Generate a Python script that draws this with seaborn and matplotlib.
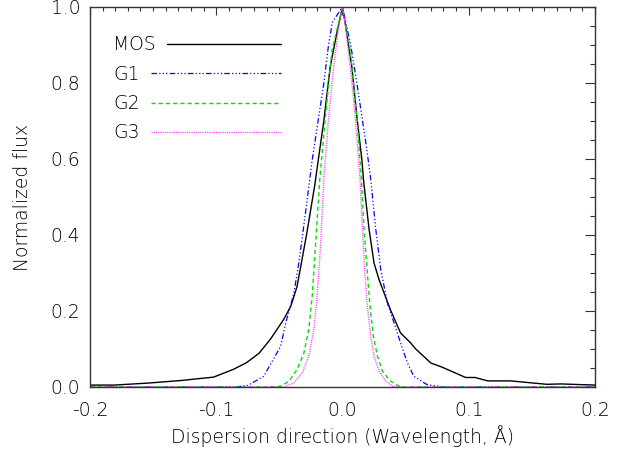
import numpy as np
import pandas as pd
import matplotlib
matplotlib.use("Agg")
import matplotlib.pyplot as plt
from matplotlib.ticker import MultipleLocator, FormatStrFormatter
import seaborn as sns

# Normalized line profiles along the dispersion direction (wavelength offset in Angstrom)
mos_x = [-0.200, -0.181, -0.155, -0.128, -0.102, -0.086, -0.076, -0.066, -0.057,
         -0.0465, -0.041, -0.036, -0.0285, -0.022, -0.0188, -0.0148, -0.0097, -0.0045,
         0.0, 0.0034, 0.0074, 0.0114, 0.0154, 0.0166, 0.0211, 0.025, 0.029, 0.033,
         0.038, 0.046, 0.054, 0.058, 0.0645, 0.070, 0.079, 0.0975, 0.105, 0.115,
         0.133, 0.162, 0.173, 0.200]
mos_y = [0.005, 0.005, 0.010, 0.017, 0.026, 0.047, 0.064, 0.089, 0.126,
         0.178, 0.212, 0.264, 0.400, 0.530, 0.606, 0.700, 0.843, 0.931,
         1.000, 0.931, 0.843, 0.711, 0.597, 0.546, 0.414, 0.326, 0.282, 0.247,
         0.203, 0.142, 0.116, 0.100, 0.080, 0.063, 0.052, 0.025, 0.025, 0.016,
         0.016, 0.007, 0.008, 0.005]

g1_x = [-0.200, -0.085, -0.075, -0.0624, -0.0544, -0.049, -0.045, -0.0386, -0.0346,
        -0.0293, -0.024, -0.0188, -0.0148, -0.0109, -0.008, 0.0,
        0.0065, 0.0114, 0.0154, 0.0193, 0.0224, 0.0264, 0.0303, 0.0356, 0.0409,
        0.046, 0.0515, 0.0565, 0.0671, 0.080, 0.200]
g1_y = [0.0, 0.0, 0.004, 0.028, 0.075, 0.107, 0.168, 0.245, 0.326,
        0.458, 0.597, 0.711, 0.799, 0.904, 0.960, 1.000,
        0.900, 0.799, 0.711, 0.624, 0.546, 0.414, 0.309, 0.221, 0.168,
        0.116, 0.063, 0.028, 0.006, 0.0, 0.0]

g2_x = [-0.200, -0.060, -0.049, -0.0425, -0.0359, -0.0306, -0.0267, -0.024, -0.0214,
        -0.018, -0.0135, -0.0083, 0.0,
        0.0061, 0.0114, 0.015, 0.0171, 0.0197, 0.0218, 0.0245, 0.0277, 0.0317,
        0.038, 0.046, 0.200]
g2_y = [0.0, 0.0, 0.002, 0.015, 0.046, 0.089, 0.151, 0.238, 0.370,
        0.546, 0.711, 0.887, 1.000,
        0.887, 0.711, 0.546, 0.414, 0.300, 0.212, 0.133, 0.081, 0.041,
        0.015, 0.0, 0.0]

g3_x = [-0.200, -0.055, -0.0465, -0.0386, -0.0319, -0.0267, -0.0227, -0.0201, -0.0174,
        -0.0148, -0.0109, -0.0069, -0.003, 0.0,
        0.0024, 0.0061, 0.0101, 0.0139, 0.0158, 0.0176, 0.0197, 0.0224, 0.025,
        0.029, 0.0344, 0.0397, 0.048, 0.200]
g3_y = [0.0, 0.0, 0.0, 0.011, 0.037, 0.081, 0.151, 0.238, 0.370,
        0.546, 0.711, 0.843, 0.948, 1.000,
        0.948, 0.843, 0.711, 0.546, 0.414, 0.309, 0.212, 0.133, 0.081,
        0.041, 0.015, 0.002, 0.0, 0.0]

series_names = ["MOS", "G1", "G2", "G3"]
series_colors = ["#000000", "#0000ff", "#00e000", "#ff40ff"]

sns.set_theme(style="white")
plt.rcParams["font.family"] = ["DejaVu Sans"]
plt.rcParams["font.weight"] = 200
plt.rcParams["axes.labelweight"] = 200
plt.rcParams["lines.scale_dashes"] = False
text_color = "#000000"
axis_color = "#333333"
fs = 13.5

fig = plt.figure(figsize=(6.24, 4.55), dpi=100)
ax = fig.add_axes([0.1442, 0.1495, 0.8093, 0.8352])

series = [(mos_x, mos_y), (g1_x, g1_y), (g2_x, g2_y), (g3_x, g3_y)]
styles = ["-", (0, (4.0, 1.6, 0.9, 1.6, 0.9, 1.6, 0.9, 1.6)), (0, (3.0, 2.2)), (0, (0.8, 0.8))]
widths = [1.0, 0.9, 1.0, 1.0]

for name, (xs, ys), col, ls, lw in zip(series_names, series, series_colors, styles, widths):
    df = pd.DataFrame({"x": xs, "y": ys})
    sns.lineplot(data=df, x="x", y="y", ax=ax, color=col, linestyle=ls, lw=lw,
                 sort=False, estimator=None, label=name)

ax.set_xlim(-0.2, 0.2)
ax.set_ylim(0.0, 1.0)
ax.xaxis.set_major_locator(MultipleLocator(0.1))
ax.xaxis.set_minor_locator(MultipleLocator(0.01))
ax.yaxis.set_major_locator(MultipleLocator(0.2))
ax.yaxis.set_minor_locator(MultipleLocator(0.05))
ax.xaxis.set_major_formatter(FormatStrFormatter("%.1f"))
ax.yaxis.set_major_formatter(FormatStrFormatter("%.1f"))

for sp in ax.spines.values():
    sp.set_color(axis_color)
    sp.set_linewidth(1.0)

ax.tick_params(axis="both", which="both", direction="in", top=True, right=True,
               color=axis_color, width=0.8, labelcolor=text_color, labelsize=fs)
ax.tick_params(axis="x", which="major", length=5.8, pad=10)
ax.tick_params(axis="x", which="minor", length=2.9)
ax.tick_params(axis="y", which="major", length=7.0, pad=7)
ax.tick_params(axis="y", which="minor", length=3.6)

ax.set_xlabel("Dispersion direction (Wavelength, Å)", fontsize=fs, color=text_color, labelpad=4)
ax.set_ylabel("Normalized flux", fontsize=fs, color=text_color, labelpad=13)

# keep the end labels of the y axis inside the frame
ylabels = ax.get_yticklabels()
ylabels[0].set_verticalalignment("bottom")
ylabels[-1].set_verticalalignment("top")

leg = ax.legend(loc="upper left", bbox_to_anchor=(0.0455, 0.925), frameon=False,
                markerfirst=False, handlelength=6.1, handletextpad=0.6,
                labelspacing=0.55, borderpad=0.0, borderaxespad=0.0, fontsize=fs)
for t in leg.get_texts():
    t.set_color(text_color)
# label column left-aligned, sample lines all ending at the same x
for col in leg._legend_handle_box.get_children():
    col.align = "left"

fig.canvas.draw()
renderer = fig.canvas.get_renderer()
text_w = [t.get_window_extent(renderer).width for t in leg.get_texts()]
max_w = max(text_w)
for line, w in zip(leg.get_lines(), text_w):
    xd = np.asarray(line.get_xdata(), dtype=float)
    yd = np.asarray(line.get_ydata(), dtype=float)
    extra = (max_w - w) * 72.0 / fig.dpi
    line.set_data([xd.min(), xd.max() + extra], [yd[0], yd[0]])

fig.savefig("out.png", dpi=100, facecolor="white")
